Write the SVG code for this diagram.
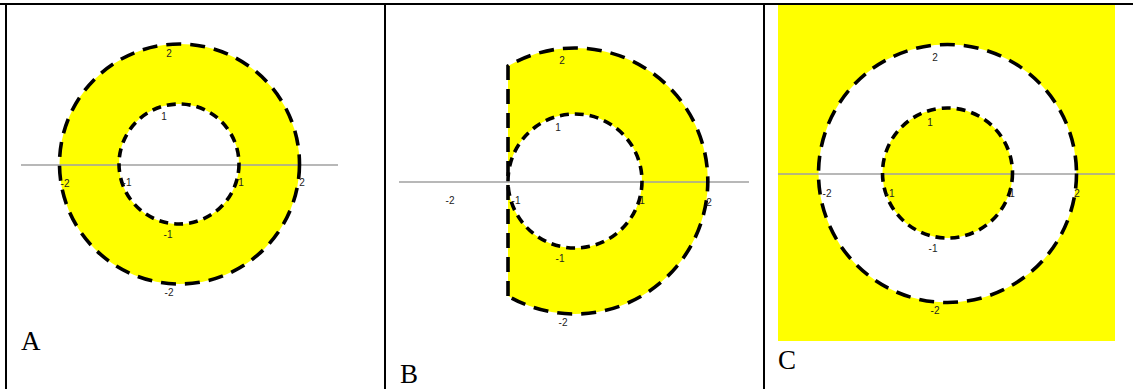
<svg xmlns="http://www.w3.org/2000/svg" width="1133" height="389" viewBox="0 0 1133 389">
<style>
.frame{stroke:#000;stroke-width:2;fill:none}
.axis{stroke:#a0a0a0;stroke-width:1.5}
.outer{stroke:#000;stroke-width:3.6;stroke-dasharray:15 9;fill:none}
.inner{stroke:#000;stroke-width:3.6;stroke-dasharray:9 6;fill:none}
.lbl{font-family:"Liberation Sans",Arial,sans-serif;font-size:10px;fill:#222;text-anchor:middle;dominant-baseline:central}
.cap{font-family:"Liberation Serif","Times New Roman",serif;font-size:27px;fill:#000}
</style>
<rect width="1133" height="389" fill="#fff"/>
<g id="table">
<line class="frame" x1="0" y1="4" x2="1133" y2="4"/>
<line class="frame" x1="6" y1="3" x2="6" y2="389"/>
<line class="frame" x1="385" y1="3" x2="385" y2="389"/>
<line class="frame" x1="764" y1="3" x2="764" y2="389"/>
</g>
<g id="panelA">
<circle cx="179.5" cy="164" r="120" fill="#ffff00"/>
<circle cx="179" cy="164" r="60" fill="#fff"/>
<line class="axis" x1="21" y1="165" x2="338" y2="165"/>
<circle class="outer" cx="179.5" cy="164" r="120"/>
<circle class="inner" cx="179" cy="164" r="60"/>
<text class="lbl" x="169" y="53">2</text>
<text class="lbl" x="164" y="116">1</text>
<text class="lbl" x="65" y="183">-2</text>
<text class="lbl" x="127" y="182">-1</text>
<text class="lbl" x="241" y="182">1</text>
<text class="lbl" x="302" y="182">2</text>
<text class="lbl" x="168" y="234">-1</text>
<text class="lbl" x="169" y="292">-2</text>
<text class="cap" x="21" y="350">A</text>
</g>
<g id="panelB">
<path d="M508,66 A133,133 0 1 1 508,296 Z M508,181 A67,67 0 1 0 642,181 A67,67 0 1 0 508,181 Z" fill="#ffff00" fill-rule="evenodd"/>
<line class="axis" x1="399" y1="182" x2="749" y2="182"/>
<path class="outer" d="M508,296 L508,66 A133,133 0 1 1 508,296"/>
<circle class="inner" cx="575" cy="181" r="67"/>
<text class="lbl" x="562" y="60">2</text>
<text class="lbl" x="558" y="127">1</text>
<text class="lbl" x="450" y="200">-2</text>
<text class="lbl" x="516" y="200">-1</text>
<text class="lbl" x="642" y="200">1</text>
<text class="lbl" x="709" y="202">2</text>
<text class="lbl" x="560" y="258">-1</text>
<text class="lbl" x="563" y="322">-2</text>
<text class="cap" x="400" y="383">B</text>
</g>
<g id="panelC">
<rect x="778" y="5" width="337" height="336" fill="#ffff00"/>
<circle cx="947.5" cy="173.5" r="129" fill="#fff"/>
<circle cx="947.5" cy="173" r="65" fill="#ffff00"/>
<line class="axis" x1="778" y1="174" x2="1115" y2="174"/>
<circle class="outer" cx="947.5" cy="173.5" r="129"/>
<circle class="inner" cx="947.5" cy="173" r="65"/>
<text class="lbl" x="935" y="57">2</text>
<text class="lbl" x="930" y="122">1</text>
<text class="lbl" x="827" y="193">-2</text>
<text class="lbl" x="890" y="193">-1</text>
<text class="lbl" x="1012" y="193">1</text>
<text class="lbl" x="1077" y="193">2</text>
<text class="lbl" x="933" y="248">-1</text>
<text class="lbl" x="935" y="310">-2</text>
<text class="cap" x="778" y="369">C</text>
</g>
</svg>
